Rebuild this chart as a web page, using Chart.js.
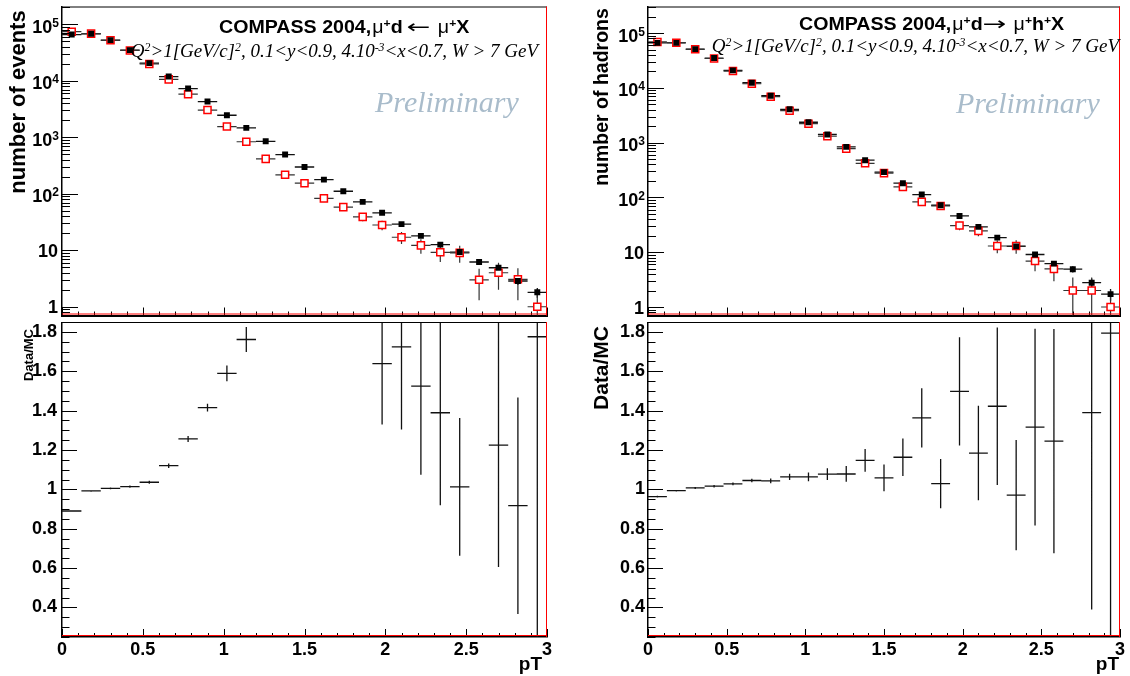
<!DOCTYPE html>
<html>
<head>
<meta charset="utf-8">
<script src="https://cdn.jsdelivr.net/npm/chart.js"></script>
<style>
  body { margin: 0; background: #fff; width: 1130px; height: 676px; position: relative; overflow: hidden;
         font-family: 'Liberation Sans', Arial, sans-serif; }
  .pane { position: absolute; }
  .txt { position: absolute; white-space: nowrap; line-height: 1; z-index: 2; }
  sup { font-size: 0.62em; position: relative; top: -0.55em; vertical-align: baseline; line-height: 0; }
  .ttl { font-weight: bold; font-size: 18.5px; transform-origin: 0 0; transform: scaleX(1.06); }
  .sym { font-weight: normal; margin-left: 1px; }
  .arr { font-weight: normal; font-family: 'DejaVu Sans', sans-serif; display: inline-block; width: 23px;
         transform-origin: 0 50%; transform: scaleX(1.45); }
  .sub { font-family: 'Liberation Serif', serif; font-style: italic; font-size: 19px; }
  .prel { font-family: 'Liberation Serif', serif; font-style: italic; font-size: 30px; color: #a9bccb; }
  .rot { position: absolute; white-space: nowrap; line-height: 1; font-weight: bold; z-index: 2;
         transform: translate(-50%, -50%) rotate(-90deg); }
  .axt { position: absolute; white-space: nowrap; line-height: 1; font-weight: bold; font-size: 19px; z-index: 2; }
</style>
</head>
<body>
<div class="pane" style="left:0;top:0"><canvas id="evTop" width="560" height="322"></canvas></div>
<div class="pane" style="left:0;top:322px"><canvas id="evRatio" width="560" height="354"></canvas></div>
<div class="pane" style="left:560px;top:0"><canvas id="hTop" width="570" height="322"></canvas></div>
<div class="pane" style="left:560px;top:322px"><canvas id="hRatio" width="570" height="354"></canvas></div>

<div class="txt ttl" style="left:219px;top:18px">COMPASS 2004,<span class="sym">μ</span><sup>+</sup>d<span class="arr" style="margin-left:4px">←</span> <span class="sym">μ</span><sup>+</sup>X</div>
<div class="txt ttl" style="left:799px;top:15px">COMPASS 2004,<span class="sym">μ</span><sup>+</sup>d<span class="arr">→</span> <span class="sym">μ</span><sup>+</sup>h<sup>+</sup>X</div>
<div class="txt sub" style="right:592px;top:41px">Q<sup>2</sup>&gt;1[GeV/c]<sup>2</sup>, 0.1&lt;y&lt;0.9, 4.10<sup>-3</sup>&lt;x&lt;0.7, W &gt; 7 GeV</div>
<div class="txt sub" style="right:11px;top:36px">Q<sup>2</sup>&gt;1[GeV/c]<sup>2</sup>, 0.1&lt;y&lt;0.9, 4.10<sup>-3</sup>&lt;x&lt;0.7, W &gt; 7 GeV</div>
<div class="txt prel" style="left:375px;top:87px">Preliminary</div>
<div class="txt prel" style="left:956px;top:88px">Preliminary</div>

<div class="rot" style="left:18px;top:102px;font-size:22px">number of events</div>
<div class="rot" style="left:602px;top:97px;font-size:19.5px">number of hadrons</div>
<div class="rot" style="left:28px;top:355px;font-size:13px">Data/MC</div>
<div class="rot" style="left:600px;top:368px;font-size:21px">Data/MC</div>
<div class="axt" style="right:588px;top:654px">pT</div>
<div class="axt" style="right:11px;top:654px">pT</div>

<script>
// bin centres in pT (bin width 0.12)
const binCenters = [0.06, 0.18, 0.30, 0.42, 0.54, 0.66, 0.78, 0.90, 1.02, 1.14, 1.26, 1.38, 1.50,
                    1.62, 1.74, 1.86, 1.98, 2.10, 2.22, 2.34, 2.46, 2.58, 2.70, 2.82, 2.94];
const binHalfWidth = 0.06;

// mu+ d -> mu+ X  (events)
const eventsData    = [66000, 68000, 52500, 35000, 20600, 11900, 7300, 4300, 2460, 1470, 849, 495, 298,
                       178, 111, 72, 46, 29, 18, 12.6, 9.3, 6.2, 4.9, 2.86, 1.8];
const eventsDataErr = [67, 68, 60, 49, 37, 28, 22, 17, 13, 10, 7.6, 5.8, 4.5,
                       3.5, 2.7, 2.2, 1.8, 1.4, 1.1, 0.92, 0.79, 0.65, 0.58, 0.44, 0.35];
const eventsMC      = [74200, 68500, 52200, 34500, 19900, 10600, 5800, 3040, 1550, 835, 415, 217, 154,
                       83, 58, 39, 28, 17, 12.2, 9.2, 9.0, 3.0, 4.0, 3.06, 1.0];
const eventsMCErr   = [272, 262, 228, 186, 141, 103, 76, 55, 39, 29, 20, 15, 12,
                       9.1, 7.6, 6.2, 5.3, 4.1, 3.5, 3.0, 3.0, 1.7, 2.0, 1.75, 1.0];
const eventsRatio   = [0.89, 0.992, 1.005, 1.014, 1.036, 1.12, 1.256, 1.415, 1.589, 1.761, 2.05, 2.28, 1.94,
                       2.14, 1.91, 1.9, 1.639, 1.724, 1.524, 1.389, 1.013, 2.07, 1.225, 0.917, 1.775];
const eventsRatioErr = [0.004, 0.004, 0.005, 0.006, 0.008, 0.011, 0.015, 0.02, 0.04, 0.063, 0.1, 0.16, 0.16,
                        0.24, 0.25, 0.31, 0.31, 0.42, 0.45, 0.47, 0.35, 1.2, 0.62, 0.55, 1.8];

// mu+ d -> mu+ h+ X  (hadrons)
const hadronsData    = [66400, 66400, 51000, 35000, 20900, 12400, 7200, 4070, 2360, 1410, 838, 479, 290,
                        182, 113, 72, 46, 29, 18.5, 12.8, 9.1, 6.2, 4.9, 2.78, 1.72];
const hadronsDataErr = [70, 70, 62, 51, 40, 30, 23, 17, 13, 10, 7.8, 5.9, 4.6,
                        3.6, 2.8, 2.3, 1.9, 1.5, 1.2, 1.0, 0.85, 0.72, 0.65, 0.55, 0.42];
const hadronsMC      = [68900, 66900, 50600, 34400, 20300, 11900, 6900, 3830, 2220, 1310, 778, 420, 278,
                        156, 83, 70, 30.7, 24.5, 13.0, 13.0, 6.9, 4.95, 2.0, 2.0, 1.0];
const hadronsMCErr   = [262, 259, 225, 185, 142, 109, 83, 62, 47, 36, 28, 20, 17,
                        12.5, 9.1, 8.4, 5.5, 5.0, 3.4, 3.6, 2.4, 2.0, 1.45, 1.45, 1.0];
const hadronsRatio   = [0.963, 0.993, 1.007, 1.016, 1.028, 1.045, 1.043, 1.063, 1.063, 1.077, 1.078, 1.147, 1.058,
                        1.163, 1.363, 1.029, 1.498, 1.184, 1.422, 0.971, 1.316, 1.245, 2.45, 1.39, 1.793];
const hadronsRatioErr = [0.004, 0.004, 0.005, 0.006, 0.007, 0.009, 0.012, 0.016, 0.022, 0.03, 0.04, 0.058, 0.068,
                         0.095, 0.15, 0.125, 0.275, 0.24, 0.4, 0.28, 0.5, 0.57, 1.9, 1.0, 1.8];

// tick labels
const xTickLabels = ['0', '0.5', '1', '1.5', '2', '2.5', '3'];
const logTickBase = ['1', '10', '10', '10', '10', '10'];
const logTickExp  = ['', '', '2', '3', '4', '5'];
const ratioTickLabels = ['0.4', '0.6', '0.8', '1', '1.2', '1.4', '1.6', '1.8'];

const RATIO_MIN = 0.25, RATIO_MAX = 1.85;

function isMultiple(v, step) { return Math.abs(v / step - Math.round(v / step)) < 1e-6; }
function isDecade(v) { const l = Math.log10(v); return Math.abs(l - Math.round(l)) < 1e-6; }

const xTickValues = [];
for (let i = 0; i <= 30; i++) xTickValues.push(+(i * 0.1).toFixed(2));
const ratioTickValues = [];
for (let i = 5; i <= 37; i++) ratioTickValues.push(+(i * 0.05).toFixed(2));
function logTickValues(min, max) {
  const out = [];
  for (let e = -1; e <= 6; e++)
    for (let m = 1; m <= 9; m++) {
      const v = +(m * Math.pow(10, e)).toPrecision(3);
      if (v >= min && v <= max) out.push(v);
    }
  return out;
}

function markerData(values) {
  return binCenters.map((c, i) => ({x: c, y: values[i]}));
}

// horizontal (bin width) and vertical (error) bars, separated by gaps
function barData(values, errs, yMax, floor) {
  const pts = [];
  binCenters.forEach((c, i) => {
    const v = values[i];
    if (v > yMax) return;
    pts.push({x: c - binHalfWidth, y: v}, {x: c + binHalfWidth, y: v}, {x: c, y: null});
    pts.push({x: c, y: Math.max(v - errs[i], floor)}, {x: c, y: v + errs[i]}, {x: c, y: null});
  });
  return pts;
}

const family = "'Liberation Sans', Arial, sans-serif";
const tickFont = {family: family, size: 18, weight: 'bold'};

// ROOT-like inward ticks, frame and power-of-ten labels
const rootFrame = {
  id: 'rootFrame',
  afterDraw(chart, args, o) {
    const {ctx, chartArea: a} = chart;
    const xs = chart.scales.x, ys = chart.scales.y;
    ctx.save();
    ctx.strokeStyle = '#000';
    ctx.lineWidth = 1;
    ctx.beginPath();
    xs.ticks.forEach(t => {
      const px = Math.round(xs.getPixelForValue(t.value)) + 0.5;
      const len = isMultiple(t.value, 0.5) ? o.xMajor : o.xMinor;
      ctx.moveTo(px, a.bottom);
      ctx.lineTo(px, a.bottom - len);
    });
    ys.ticks.forEach(t => {
      const py = Math.round(ys.getPixelForValue(t.value)) + 0.5;
      const major = o.log ? isDecade(t.value) : isMultiple(t.value, 0.2);
      ctx.moveTo(a.left, py);
      ctx.lineTo(a.left + (major ? o.yMajor : o.yMinor), py);
    });
    ctx.moveTo(a.left, a.top + 0.5);
    ctx.lineTo(a.right, a.top + 0.5);
    ctx.stroke();

    ctx.strokeStyle = '#ff0000';
    ctx.beginPath();
    ctx.moveTo(a.right - 0.5, a.top);
    ctx.lineTo(a.right - 0.5, a.bottom);
    ctx.moveTo(a.left, a.bottom - 1.5);
    ctx.lineTo(a.right, a.bottom - 1.5);
    ctx.stroke();

    if (o.log) {
      ctx.fillStyle = '#000';
      ctx.textAlign = 'right';
      ctx.textBaseline = 'alphabetic';
      ys.ticks.forEach(t => {
        if (!isDecade(t.value) || t.value < 1) return;
        const k = Math.round(Math.log10(t.value));
        const py = ys.getPixelForValue(t.value);
        const right = a.left - o.labelPad;
        if (logTickExp[k]) {
          ctx.font = 'bold 12px ' + family;
          ctx.fillText(logTickExp[k], right, py + 2.5);
          const ew = ctx.measureText(logTickExp[k]).width;
          ctx.font = 'bold 18px ' + family;
          ctx.fillText(logTickBase[k], right - ew, py + 8.5);
        } else {
          ctx.font = 'bold 18px ' + family;
          ctx.fillText(logTickBase[k], right - 1, py + 6.5);
        }
      });
    }
    ctx.restore();
  }
};

function xScale(showLabels, height, borderWidth) {
  return {
    type: 'linear', min: 0, max: 3,
    afterBuildTicks: s => { s.ticks = xTickValues.map(v => ({value: v})); },
    afterFit: s => { s.height = height; s.paddingLeft = 0; s.paddingRight = 0; },
    grid: {display: false, drawTicks: false},
    border: {display: true, color: '#000', width: borderWidth},
    ticks: {
      display: showLabels, autoSkip: false, maxRotation: 0, minRotation: 0, padding: 2,
      color: '#000', font: tickFont,
      callback: v => isMultiple(v, 0.5) ? xTickLabels[Math.round(v / 0.5)] : ''
    }
  };
}

function logScale(min, max, width) {
  return {
    type: 'logarithmic', min: min, max: max,
    afterBuildTicks: s => { s.ticks = logTickValues(min, max).map(v => ({value: v})); },
    afterFit: s => { s.width = width; s.paddingTop = 0; s.paddingBottom = 0; },
    grid: {display: false, drawTicks: false},
    border: {display: true, color: '#000', width: 1.5},
    ticks: {autoSkip: false, font: tickFont, callback: () => ''}
  };
}

function ratioScale(width, pad) {
  return {
    type: 'linear', min: RATIO_MIN, max: RATIO_MAX,
    afterBuildTicks: s => { s.ticks = ratioTickValues.map(v => ({value: v})); },
    afterFit: s => { s.width = width; s.paddingTop = 0; s.paddingBottom = 0; },
    grid: {display: false, drawTicks: false},
    border: {display: true, color: '#000', width: 1.5},
    ticks: {
      autoSkip: false, padding: pad, color: '#000', font: tickFont,
      callback: v => (isMultiple(v, 0.2) && v > 0.39) ? ratioTickLabels[Math.round((v - 0.4) / 0.2)] : ''
    }
  };
}

function baseOptions(padding, scales, frame) {
  return {
    responsive: false, animation: false, events: [],
    layout: {padding: padding},
    plugins: {legend: {display: false}, tooltip: {enabled: false}, rootFrame: frame},
    scales: scales
  };
}

function spectrumChart(id, data, dataErr, mc, mcErr, yMin, yMax, yWidth, pad, padding) {
  new Chart(document.getElementById(id), {
    type: 'line',
    data: {
      datasets: [
        {label: 'data', data: markerData(data), showLine: false, pointStyle: 'rect', pointRadius: 4.2,
         pointBackgroundColor: '#000', pointBorderColor: '#000', pointBorderWidth: 0},
        {label: 'MC', data: markerData(mc), showLine: false, pointStyle: 'rect', pointRadius: 5,
         pointBackgroundColor: '#fff', pointBorderColor: '#ff0000', pointBorderWidth: 1.5},
        {label: 'MC bars', data: barData(mc, mcErr, Infinity, 0.3), borderColor: '#333', borderWidth: 1.2, pointRadius: 0},
        {label: 'data bars', data: barData(data, dataErr, Infinity, 0.3), borderColor: '#111', borderWidth: 1.3, pointRadius: 0}
      ]
    },
    options: baseOptions(padding, {x: xScale(false, 0, 2), y: logScale(yMin, yMax, yWidth)},
                         {log: true, labelPad: pad, xMajor: 8, xMinor: 4, yMajor: 16, yMinor: 8}),
    plugins: [rootFrame]
  });
}

function ratioChart(id, ratio, ratioErr, yWidth, pad, padding) {
  new Chart(document.getElementById(id), {
    type: 'line',
    data: {
      datasets: [
        {label: 'Data/MC', data: barData(ratio, ratioErr, RATIO_MAX, -1), borderColor: '#111', borderWidth: 1.3, pointRadius: 0}
      ]
    },
    options: baseOptions(padding, {x: xScale(true, 39, 1.5), y: ratioScale(yWidth, pad)},
                         {log: false, labelPad: pad, xMajor: 8, xMinor: 4, yMajor: 15, yMinor: 7.5}),
    plugins: [rootFrame]
  });
}

spectrumChart('evTop', eventsData, eventsDataErr, eventsMC, eventsMCErr, 0.716, 207000, 62, 3,
              {left: 0, right: 13, top: 6, bottom: 0});
ratioChart('evRatio', eventsRatio, eventsRatioErr, 62, 5, {left: 0, right: 13, top: 0, bottom: 0});
spectrumChart('hTop', hadronsData, hadronsDataErr, hadronsMC, hadronsMCErr, 0.70, 306000, 88, 3,
              {left: 0, right: 10, top: 5, bottom: 0});
ratioChart('hRatio', hadronsRatio, hadronsRatioErr, 88, 3, {left: 0, right: 10, top: 0, bottom: 0});
</script>
</body>
</html>
